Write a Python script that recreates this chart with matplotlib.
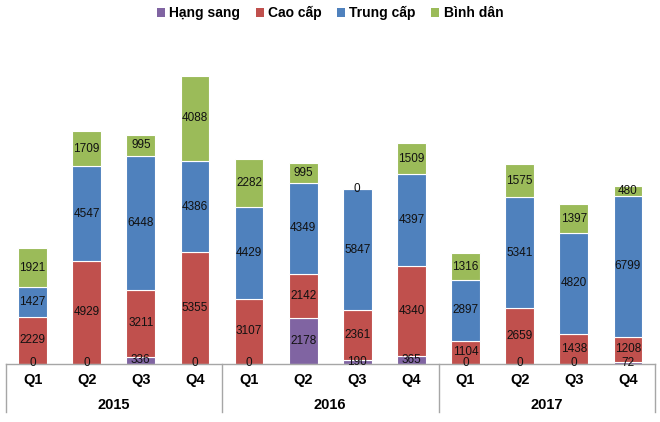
import matplotlib
matplotlib.use('Agg')
import matplotlib.pyplot as plt
import matplotlib.transforms as mtransforms
from matplotlib.patches import Patch
import numpy as np

plt.rcParams['font.family'] = ['Liberation Sans', 'DejaVu Sans']

years = ['2015', '2016', '2017']
quarters = ['Q1', 'Q2', 'Q3', 'Q4']
series = ['Hạng sang', 'Cao cấp', 'Trung cấp', 'Bình dân']
colors = ['#8064A2', '#C0504D', '#4F81BD', '#9BBB59']

hang_sang = [0, 0, 336, 0, 0, 2178, 190, 365, 0, 0, 0, 72]
cao_cap = [2229, 4929, 3211, 5355, 3107, 2142, 2361, 4340, 1104, 2659, 1438, 1208]
trung_cap = [1427, 4547, 6448, 4386, 4429, 4349, 5847, 4397, 2897, 5341, 4820, 6799]
binh_dan = [1921, 1709, 995, 4088, 2282, 995, 0, 1509, 1316, 1575, 1397, 480]

values = [hang_sang, cao_cap, trung_cap, binh_dan]
n = len(hang_sang)
x = np.arange(n)

fig = plt.figure(figsize=(6.6, 4.22), dpi=100)
ax = fig.add_axes([5.5 / 660, (422 - 363.5) / 422, 649.5 / 660, 323.5 / 422])

bottom = np.zeros(n)
for vals, col in zip(values, colors):
    vals = np.array(vals, dtype=float)
    ax.bar(x, vals, width=0.53, bottom=bottom, color=col, edgecolor='white', linewidth=0.8, zorder=2)
    for xi, b, v in zip(x, bottom, vals):
        ax.text(xi, b + v / 2, f'{int(v)}', ha='center', va='center', fontsize=8.5, color='#111111', zorder=3)
    bottom += vals

ax.set_xlim(-0.5, n - 0.5)
ax.set_ylim(0, 15560)
ax.set_yticks([])
ax.set_xticks([])
for side in ['top', 'right', 'left']:
    ax.spines[side].set_visible(False)
ax.spines['bottom'].set_color('#A6A6A6')
ax.spines['bottom'].set_linewidth(1)

trans = mtransforms.blended_transform_factory(ax.transData, ax.transAxes)
for i in range(n):
    ax.text(x[i], -0.05, quarters[i % 4], transform=trans, ha='center', va='center',
            fontsize=10.5, fontweight='bold')
for j, yr in enumerate(years):
    ax.text(j * 4 + 1.5, -0.128, yr, transform=trans, ha='center', va='center',
            fontsize=10.5, fontweight='bold')
for sep in [-0.5, 3.5, 7.5, 11.5]:
    ax.plot([sep, sep], [0, -0.15], transform=trans, color='#A6A6A6', lw=1, clip_on=False)

handles = [Patch(facecolor=c, edgecolor='none') for c in colors]
fig.legend(handles, series, loc='center', bbox_to_anchor=(0.5, 1 - 13 / 422), ncol=4,
           frameon=False, prop={'size': 10, 'weight': 'bold'}, handlelength=0.6, handleheight=0.6,
           handletextpad=0.3, columnspacing=1.1)

fig.savefig('out.png', dpi=100)
